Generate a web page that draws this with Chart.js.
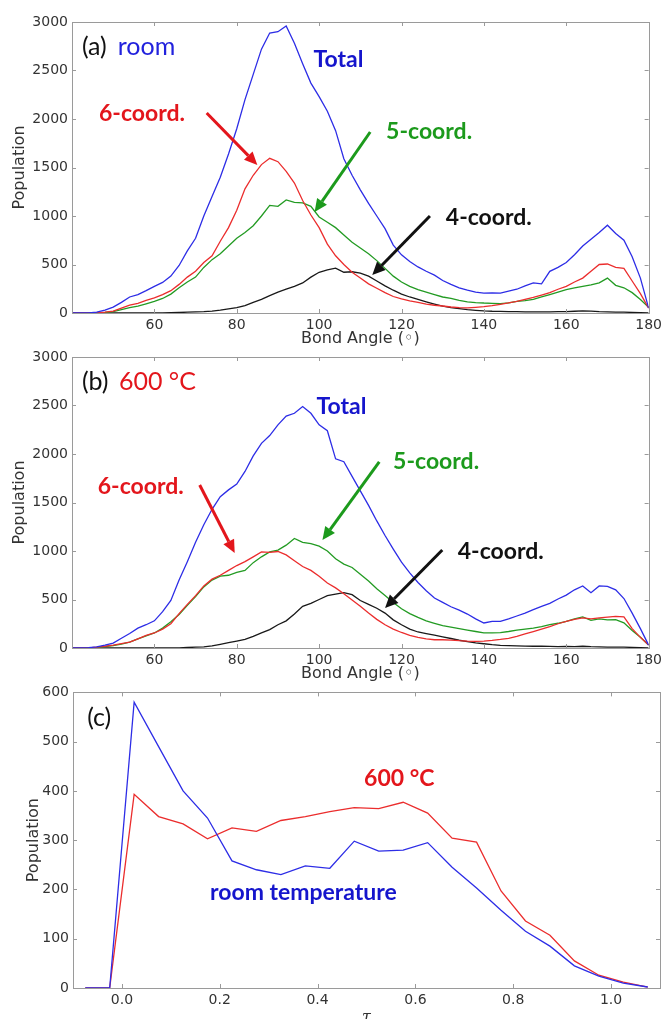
<!DOCTYPE html>
<html>
<head>
  <meta charset="utf-8">
  <title>Bond angle populations</title>
  <style>
    body {
      margin: 0;
      background: #fff;
      width: 666px;
      height: 1019px;
      overflow: hidden;
      position: relative;
    }
    .panel {
      position: absolute;
      left: 0;
      width: 666px;
    }
  </style>
</head>
<body>
  <div class="panel" style="top:0px;height:350px"><canvas id="chartA" width="666" height="350"></canvas></div>
  <div class="panel" style="top:340px;height:345px"><canvas id="chartB" width="666" height="345"></canvas></div>
  <div class="panel" style="top:680px;height:349px"><canvas id="chartC" width="666" height="349"></canvas></div>

  <script src="https://cdn.jsdelivr.net/npm/chart.js"></script>
  <script>
    // bond angle bins (degrees)
    var angles = [40, 42, 44, 46, 48, 50, 52, 54, 56, 58,
      60, 62, 64, 66, 68, 70, 72, 74, 76, 78,
      80, 82, 84, 86, 88, 90, 92, 94, 96, 98,
      100, 102, 104, 106, 108, 110, 112, 114, 116, 118,
      120, 122, 124, 126, 128, 130, 132, 134, 136, 138,
      140, 142, 144, 146, 148, 150, 152, 154, 156, 158,
      160, 162, 164, 166, 168, 170, 172, 174, 176, 178, 180];
    var angleTicks = [60, 80, 100, 120, 140, 160, 180];

    // (a) room temperature
    var roomTotal = [0, 0, 2, 8, 30, 60, 110, 165, 190, 230,
      275, 315, 380, 490, 640, 770, 1000, 1200, 1400, 1640,
      1900, 2200, 2460, 2720, 2886, 2900, 2960, 2780, 2570, 2370,
      2230, 2080, 1880, 1590, 1420, 1270, 1130, 1000, 870, 700,
      600, 530, 475, 430, 390, 335, 295, 260, 235, 215,
      205, 208, 205, 225, 245, 280, 310, 300, 430, 470,
      520, 600, 690, 760, 830, 905, 820, 750, 580, 360, 50];
    var room6 = [0, 0, 0, 2, 8, 20, 50, 80, 100, 130,
      155, 190, 230, 295, 370, 430, 520, 590, 740, 880,
      1060, 1280, 1420, 1530, 1595, 1560, 1460, 1340, 1160, 1010,
      880, 710, 590, 500, 420, 360, 300, 255, 210, 170,
      145, 125, 110, 92, 80, 72, 62, 55, 52, 58,
      65, 75, 90, 105, 120, 140, 160, 185, 210, 245,
      275, 320, 360, 430, 500, 505, 470, 460, 330, 200, 50];
    var room5 = [0, 0, 0, 0, 5, 15, 35, 55, 72, 95,
      120, 150, 195, 260, 320, 370, 470, 550, 610, 690,
      770, 830, 900, 1000, 1110, 1100, 1165, 1140, 1135, 1100,
      990, 935, 880, 805, 730, 670, 610, 540, 460, 380,
      320, 275, 240, 215, 190, 165, 150, 130, 115, 108,
      103, 100, 97, 105, 120, 128, 140, 165, 190, 215,
      240, 258, 275, 290, 310, 360, 285, 260, 210, 140, 60];
    var room4 = [0, 0, 0, 0, 0, 0, 0, 0, 0, 0,
      0, 0, 3, 5, 8, 12, 15, 20, 30, 42,
      55, 75, 110, 140, 180, 215, 245, 275, 310, 370,
      420, 445, 462, 420, 425, 410, 380, 330, 280, 235,
      195, 165, 140, 115, 92, 70, 55, 45, 35, 28,
      22, 18, 17, 15, 14, 12, 12, 11, 12, 14,
      15, 18, 22, 20, 15, 12, 10, 8, 6, 3, 0];

    // (b) 600 °C
    var hotTotal = [0, 0, 3, 12, 30, 50, 100, 150, 205, 240,
      280, 375, 490, 700, 890, 1090, 1270, 1430, 1560, 1630,
      1690, 1820, 1980, 2110, 2190, 2300, 2390, 2420, 2490, 2420,
      2300, 2240, 1950, 1920, 1770, 1620, 1470, 1310, 1160, 1020,
      885, 775, 675, 590, 515, 470, 425, 390, 350, 300,
      258, 275, 275, 300, 330, 360, 395, 430, 460, 505,
      545, 600, 640, 570, 640, 635, 600, 510, 360, 200, 30];
    var hot6 = [0, 0, 2, 8, 18, 30, 45, 60, 95, 130,
      155, 195, 250, 355, 450, 540, 640, 710, 750, 800,
      850, 890, 940, 990, 985, 995, 960, 900, 840, 800,
      740, 670, 620, 560, 495, 430, 360, 295, 240, 195,
      160, 130, 110, 95, 85, 85, 82, 75, 70, 68,
      70, 78, 88, 100, 120, 145, 170, 195, 220, 250,
      275, 295, 310, 300, 310, 318, 325, 320, 200, 110, 30];
    var hot5 = [0, 0, 1, 5, 14, 25, 40, 60, 95, 125,
      155, 205, 270, 345, 440, 530, 630, 700, 740, 750,
      780, 800, 880, 940, 990, 1010, 1060, 1130, 1090, 1075,
      1050, 1000, 920, 865, 830, 760, 690, 610, 540, 470,
      405, 355, 315, 280, 255, 230, 215, 200, 185, 170,
      155, 155, 158, 170, 185, 195, 205, 220, 240, 255,
      275, 300, 320, 285, 300, 290, 292, 260, 180, 110, 30];
    var hot4 = [0, 0, 0, 0, 0, 0, 0, 0, 0, 0,
      0, 0, 0, 0, 5, 8, 12, 22, 38, 55,
      72, 90, 120, 155, 190, 240, 280, 350, 430, 460,
      500, 540, 555, 570, 550, 490, 450, 410, 360, 290,
      240, 195, 165, 148, 132, 115, 98, 80, 66, 52,
      44, 34, 28, 25, 22, 20, 18, 18, 16, 15,
      16, 14, 18, 14, 12, 10, 10, 8, 6, 3, 0];

    // (c) tau distribution
    var tau = [-0.075, -0.025, 0.025, 0.075, 0.125, 0.175, 0.225, 0.275, 0.325, 0.375, 0.425, 0.475,
      0.525, 0.575, 0.625, 0.675, 0.725, 0.775, 0.825, 0.875, 0.925, 0.975, 1.025, 1.075];
    var tauTicks = [0, 0.2, 0.4, 0.6, 0.8, 1.0];
    var tauRoom = [0, 0, 580, 490, 400, 345, 258, 240, 230, 248, 243, 298,
      278, 280, 295, 245, 203, 158, 115, 85, 45, 24, 10, 2];
    var tauHot = [0, 0, 393, 348, 333, 303, 325, 318, 340, 348, 358, 366,
      364, 377, 355, 304, 296, 197, 136, 107, 55, 26, 12, 2];

    var BLUE = 'rgb(45,45,230)', RED = 'rgb(235,45,45)', GREEN = 'rgb(35,155,35)', BLACK = 'rgb(25,25,25)';
    var tickFont = { family: 'DejaVu Sans', size: 14 };
    var titleFont = { family: 'DejaVu Sans', size: 16 };

    function pts(xs, ys) {
      return xs.map(function (x, i) { return { x: x, y: ys[i] }; });
    }

    function line(data, color) {
      return { data: data, borderColor: color, borderWidth: 1.3, pointRadius: 0, fill: false, tension: 0 };
    }

    function plain(v) {
      return String(v);
    }

    // frame, inward ticks, arrows and text labels
    var framePlugin = {
      id: 'frame',
      afterDatasetsDraw: function (chart, args, opts) {
        var ctx = chart.ctx, a = chart.chartArea;
        var xs = chart.scales.x, ys = chart.scales.y;
        ctx.save();
        ctx.strokeStyle = '#9a9a9a';
        ctx.lineWidth = 1;
        ctx.strokeRect(Math.round(a.left) + 0.5, Math.round(a.top) + 0.5,
          Math.round(a.right - a.left), Math.round(a.bottom - a.top));
        ctx.beginPath();
        xs.ticks.forEach(function (t) {
          var px = Math.round(xs.getPixelForValue(t.value)) + 0.5;
          ctx.moveTo(px, a.bottom); ctx.lineTo(px, a.bottom - 4);
          ctx.moveTo(px, a.top); ctx.lineTo(px, a.top + 4);
        });
        ys.ticks.forEach(function (t) {
          var py = Math.round(ys.getPixelForValue(t.value)) + 0.5;
          ctx.moveTo(a.left, py); ctx.lineTo(a.left + 4, py);
          ctx.moveTo(a.right, py); ctx.lineTo(a.right - 4, py);
        });
        ctx.stroke();

        (opts.arrows || []).forEach(function (ar) {
          var x1 = xs.getPixelForValue(ar.from[0]), y1 = ys.getPixelForValue(ar.from[1]);
          var x2 = xs.getPixelForValue(ar.to[0]), y2 = ys.getPixelForValue(ar.to[1]);
          var ang = Math.atan2(y2 - y1, x2 - x1);
          var head = 13, half = 6;
          var bx = x2 - head * Math.cos(ang), by = y2 - head * Math.sin(ang);
          ctx.strokeStyle = ar.color;
          ctx.fillStyle = ar.color;
          ctx.lineWidth = 3;
          ctx.beginPath();
          ctx.moveTo(x1, y1);
          ctx.lineTo(bx, by);
          ctx.stroke();
          ctx.beginPath();
          ctx.moveTo(x2, y2);
          ctx.lineTo(bx + half * Math.sin(ang), by - half * Math.cos(ang));
          ctx.lineTo(bx - half * Math.sin(ang), by + half * Math.cos(ang));
          ctx.closePath();
          ctx.fill();
        });

        (opts.notes || []).forEach(function (n) {
          ctx.font = (n.bold ? 'bold ' : '') + n.size + 'px Lato';
          ctx.fillStyle = n.color;
          ctx.textAlign = n.align || 'center';
          ctx.textBaseline = 'middle';
          ctx.fillText(n.text, xs.getPixelForValue(n.x), ys.getPixelForValue(n.y));
        });
        ctx.restore();
      }
    };

    function angleChart(id, sets, padTop, boxH, notes, arrows) {
      return new Chart(document.getElementById(id), {
        type: 'line',
        data: { datasets: sets },
        plugins: [framePlugin],
        options: {
          responsive: false,
          animation: false,
          layout: { padding: { left: 0, top: padTop, right: 16, bottom: 0 } },
          plugins: {
            legend: { display: false },
            tooltip: { enabled: false },
            frame: { notes: notes, arrows: arrows }
          },
          scales: {
            x: {
              type: 'linear', min: 40, max: 180,
              afterBuildTicks: function (s) { s.ticks = angleTicks.map(function (v) { return { value: v }; }); },
              ticks: { color: '#333', font: tickFont, padding: 4, autoSkip: false, maxRotation: 0, callback: plain },
              grid: { display: false, drawTicks: false },
              border: { display: false },
              title: { display: true, text: 'Bond Angle (\u25E6)', color: '#333', font: titleFont, padding: { top: 0, bottom: 2 } },
              afterFit: function (s) { s.height = boxH; }
            },
            y: {
              min: 0, max: 3000,
              ticks: { stepSize: 500, color: '#333', font: tickFont, padding: 4, callback: plain },
              grid: { display: false, drawTicks: false },
              border: { display: false },
              title: { display: true, text: 'Population', color: '#333', font: titleFont, padding: { top: 10, bottom: 0 } },
              afterFit: function (s) { s.width = 72; }
            }
          }
        }
      });
    }

    angleChart('chartA', [
      line(pts(angles, roomTotal), BLUE),
      line(pts(angles, room6), RED),
      line(pts(angles, room5), GREEN),
      line(pts(angles, room4), BLACK)
    ], 22, 37, [
      { text: '(a)', x: 42.4, y: 2742, color: '#111', size: 25, align: 'left' },
      { text: 'room', x: 51.1, y: 2742, color: '#2222dd', size: 25, align: 'left' },
      { text: 'Total', x: 104.7, y: 2608, color: '#1515cc', size: 23, bold: true },
      { text: '6-coord.', x: 57, y: 2052, color: '#e3161c', size: 23, bold: true },
      { text: '5-coord.', x: 126.7, y: 1866, color: '#1c9a1c', size: 23, bold: true },
      { text: '4-coord.', x: 141.2, y: 979, color: '#111', size: 23, bold: true }
    ], [
      { from: [72.7, 2062], to: [85.0, 1526], color: '#e3161c' },
      { from: [112.4, 1866], to: [98.9, 1041], color: '#1c9a1c' },
      { from: [126.9, 1000], to: [112.9, 392], color: '#111' }
    ]);

    angleChart('chartB', [
      line(pts(angles, hotTotal), BLUE),
      line(pts(angles, hot6), RED),
      line(pts(angles, hot5), GREEN),
      line(pts(angles, hot4), BLACK)
    ], 17, 37, [
      { text: '(b)', x: 42.4, y: 2742, color: '#111', size: 25, align: 'left' },
      { text: '600 \u00B0C', x: 51.4, y: 2742, color: '#e3161c', size: 25, align: 'left' },
      { text: 'Total', x: 105.4, y: 2485, color: '#1515cc', size: 23, bold: true },
      { text: '6-coord.', x: 56.7, y: 1660, color: '#e3161c', size: 23, bold: true },
      { text: '5-coord.', x: 128.4, y: 1918, color: '#1c9a1c', size: 23, bold: true },
      { text: '4-coord.', x: 144.1, y: 990, color: '#111', size: 23, bold: true }
    ], [
      { from: [71.0, 1680], to: [79.5, 979], color: '#e3161c' },
      { from: [114.6, 1918], to: [100.8, 1113], color: '#1c9a1c' },
      { from: [129.9, 1010], to: [116.0, 412], color: '#111' }
    ]);

    new Chart(document.getElementById('chartC'), {
      type: 'line',
      data: {
        datasets: [
          line(pts(tau, tauRoom), BLUE),
          line(pts(tau, tauHot), RED)
        ]
      },
      plugins: [framePlugin],
      options: {
        responsive: false,
        animation: false,
        layout: { padding: { left: 0, top: 12, right: 6, bottom: 0 } },
        plugins: {
          legend: { display: false },
          tooltip: { enabled: false },
          frame: {
            notes: [
              { text: '(c)', x: -0.071, y: 549, color: '#111', size: 25, align: 'left' },
              { text: '600 \u00B0C', x: 0.567, y: 426, color: '#e3161c', size: 23, bold: true },
              { text: 'room temperature', x: 0.371, y: 193, color: '#1515cc', size: 23, bold: true }
            ],
            arrows: []
          }
        },
        scales: {
          x: {
            type: 'linear', min: -0.1, max: 1.1,
            afterBuildTicks: function (s) { s.ticks = tauTicks.map(function (v) { return { value: v }; }); },
            ticks: {
              color: '#333', font: tickFont, padding: 4, autoSkip: false, maxRotation: 0,
              callback: function (v) { return Number(v).toFixed(1); }
            },
            grid: { display: false, drawTicks: false },
            border: { display: false },
            title: { display: true, text: '\u03C4', color: '#333', font: { family: 'DejaVu Serif', size: 16, style: 'italic' }, padding: { top: 0, bottom: 2 } },
            afterFit: function (s) { s.height = 41; }
          },
          y: {
            min: 0, max: 600,
            ticks: { stepSize: 100, color: '#333', font: tickFont, padding: 4, callback: plain },
            grid: { display: false, drawTicks: false },
            border: { display: false },
            title: { display: true, text: 'Population', color: '#333', font: titleFont, padding: { top: 24, bottom: 0 } },
            afterFit: function (s) { s.width = 73; }
          }
        }
      }
    });
  </script>
</body>
</html>
